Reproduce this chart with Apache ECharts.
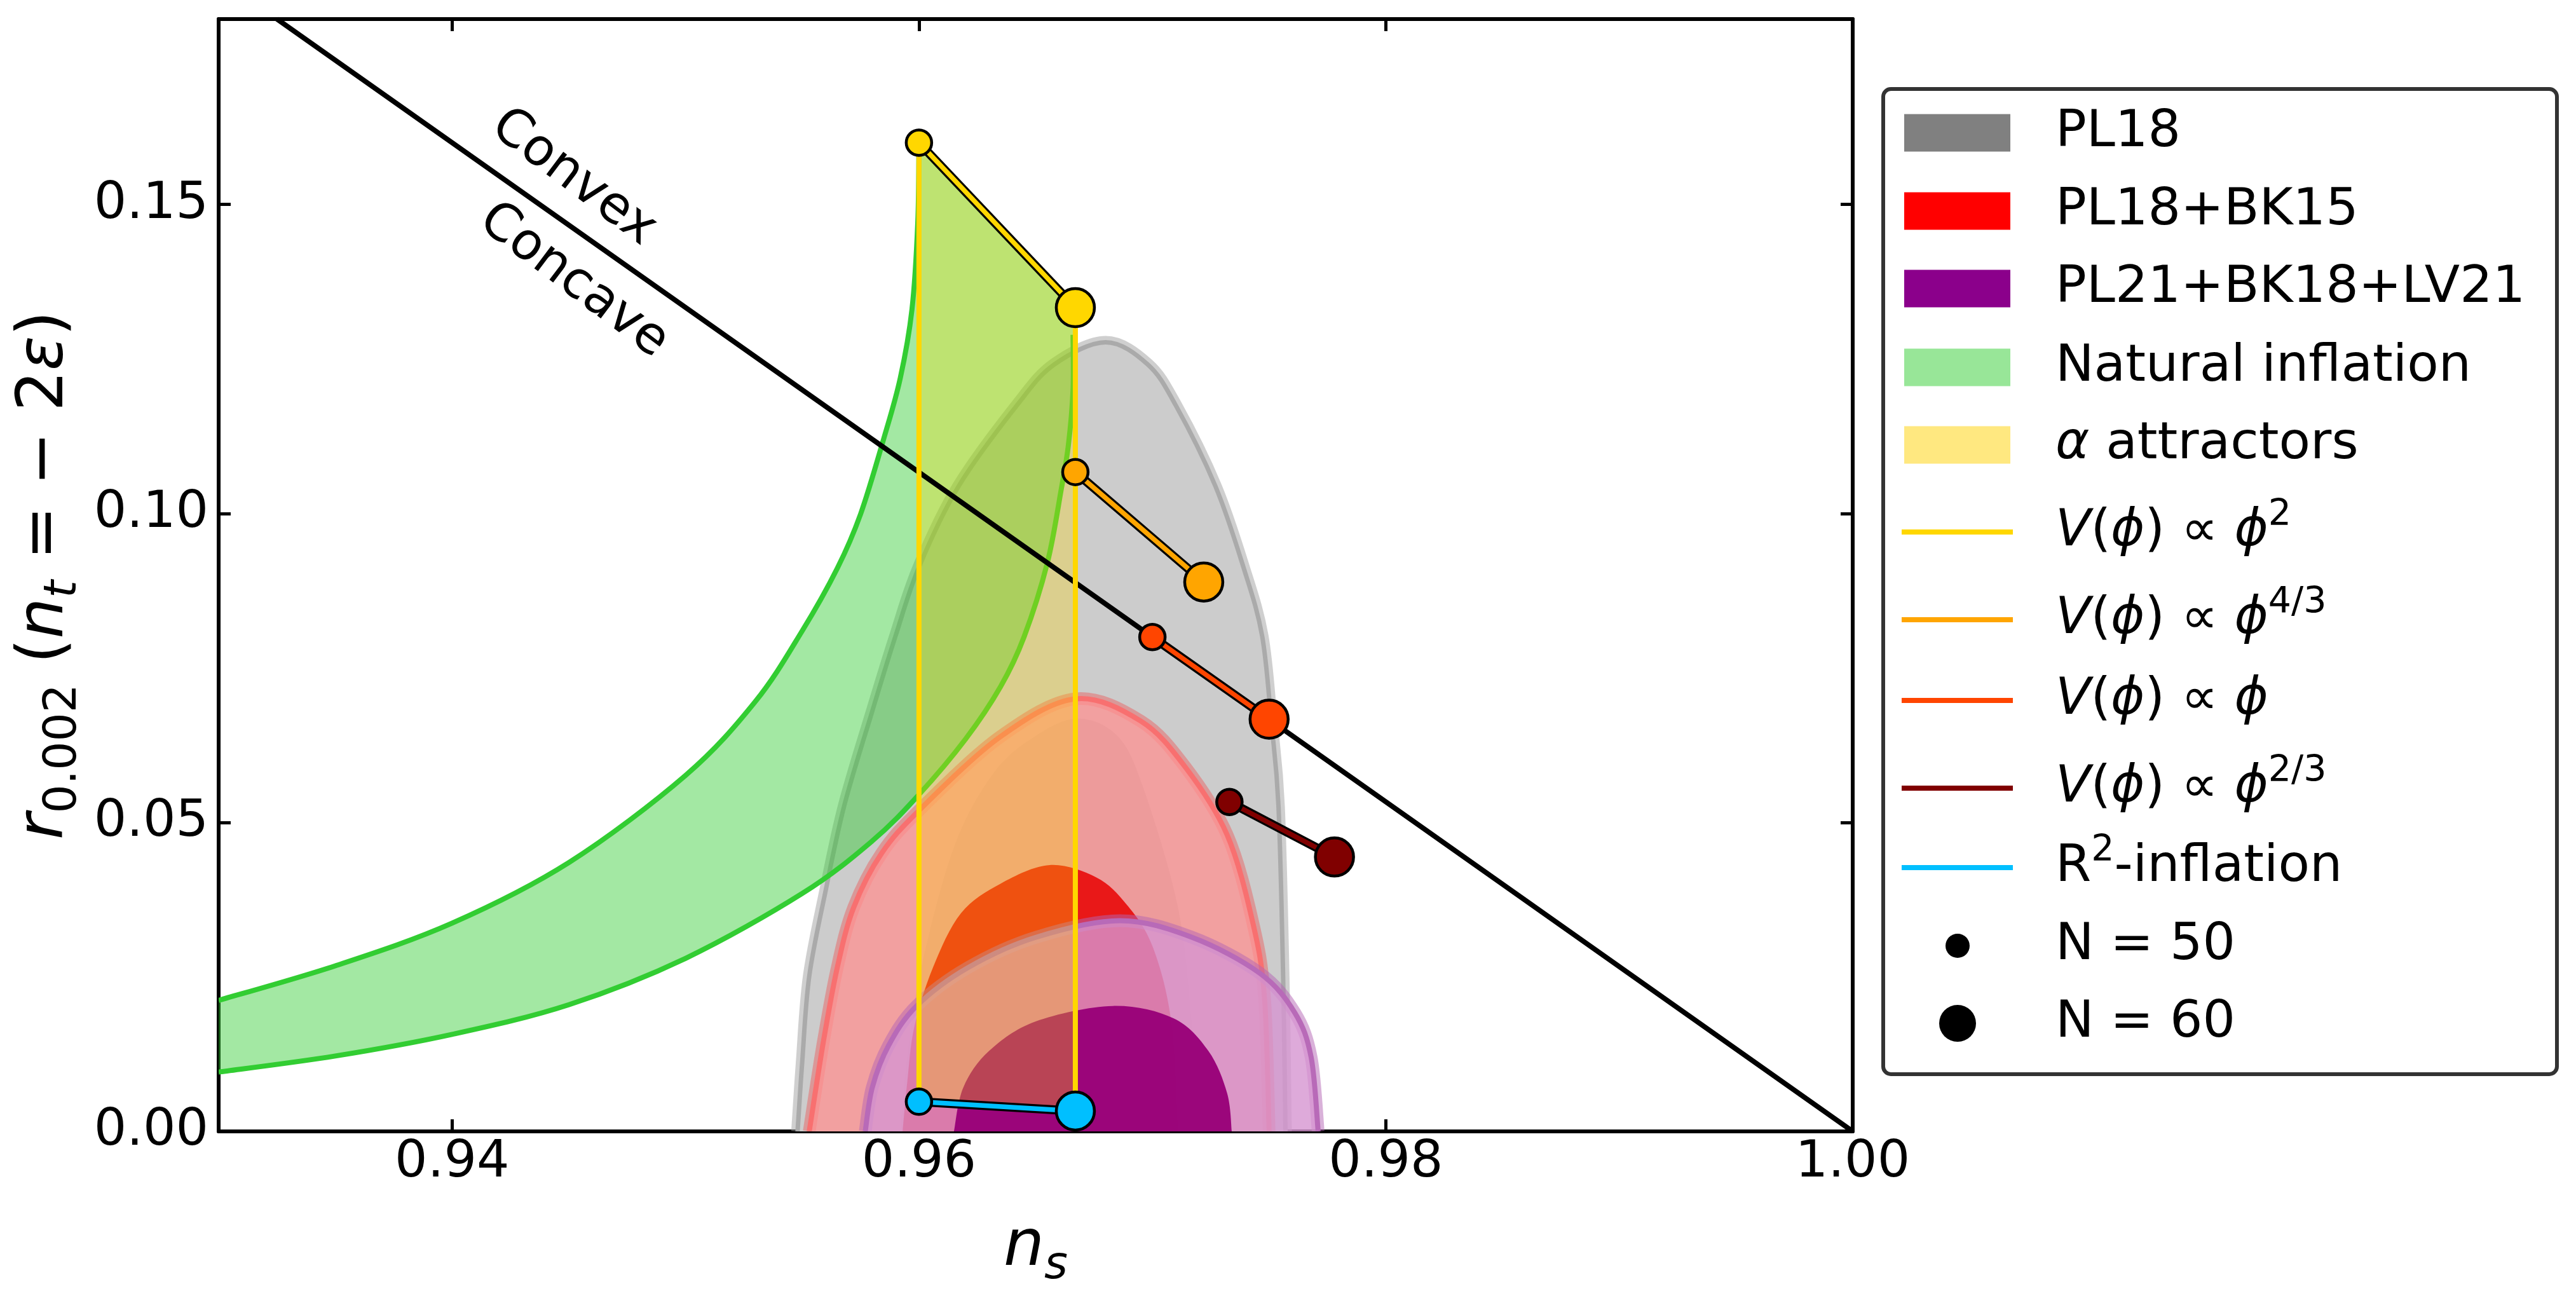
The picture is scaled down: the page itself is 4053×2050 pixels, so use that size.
<!DOCTYPE html>
<html>
<head>
<meta charset="utf-8">
<script src="https://cdn.jsdelivr.net/npm/echarts@6/dist/echarts.min.js"></script>
<style>
  html, body { margin: 0; background: #fff; }
  #chart { width: 4053px; height: 2050px; }
</style>
</head>
<body>
<div id="chart"></div>
<script>
var FONT = 'DejaVu Sans';

// axis ticks
var xTicks = [0.94, 0.96, 0.98, 1.00];
var yTicks = [0.00, 0.05, 0.10, 0.15];

// constraint contours, points [n_s, r]
var pl18Outer = [[0.9548, 0], [0.9550, 0.0113], [0.9553, 0.0251], [0.9560, 0.0389], [0.9568, 0.0527],
  [0.9580, 0.0680], [0.9590, 0.0802], [0.9600, 0.0913], [0.9617, 0.1044], [0.9642, 0.1175],
  [0.9658, 0.1241], [0.9680, 0.1277], [0.9698, 0.1241], [0.9710, 0.1175], [0.9727, 0.1044],
  [0.9739, 0.0913], [0.9747, 0.0802], [0.9751, 0.0660], [0.9754, 0.0527], [0.9756, 0.0251], [0.9757, 0]];
var pl18Inner = [[0.9592, 0], [0.9595, 0.0120], [0.9601, 0.0265], [0.9615, 0.0460], [0.9632, 0.0580],
  [0.9650, 0.0640], [0.9668, 0.0668], [0.9685, 0.0640], [0.9696, 0.0557], [0.9711, 0.0362],
  [0.9717, 0.0169], [0.9721, 0]];
var bk15Outer = [[0.9553, 0], [0.9559, 0.0144], [0.9565, 0.0265], [0.9572, 0.0362], [0.9584, 0.0450],
  [0.9601, 0.0523], [0.9635, 0.0639], [0.9667, 0.0700], [0.9695, 0.0664], [0.9714, 0.0590],
  [0.9732, 0.0480], [0.9743, 0.0338], [0.9748, 0.0217], [0.9750, 0]];
var bk15Inner = [[0.9593, 0], [0.9595, 0.0080], [0.9598, 0.0169], [0.9606, 0.0265], [0.9618, 0.0353],
  [0.9635, 0.0401], [0.9656, 0.0431], [0.9676, 0.0411], [0.9689, 0.0367], [0.9700, 0.0300],
  [0.9708, 0.0180], [0.9711, 0]];
var bk18Outer = [[0.9577, 0], [0.9580, 0.0071], [0.9587, 0.0139], [0.9599, 0.0203], [0.9621, 0.0265],
  [0.9650, 0.0314], [0.9686, 0.0341], [0.9717, 0.0314], [0.9746, 0.0256], [0.9761, 0.0192],
  [0.9768, 0.0120], [0.9771, 0]];
var bk18Inner = [[0.9615, 0], [0.9619, 0.0071], [0.9630, 0.0130], [0.9650, 0.0178], [0.9683, 0.0203],
  [0.9709, 0.0183], [0.9724, 0.0130], [0.9732, 0.0062], [0.9734, 0]];

// natural inflation band: N = 50 edge (left to tip) and N = 60 edge (tip to left)
var naturalN50 = [[0.9300, 0.0212], [0.9350, 0.0268], [0.9400, 0.0337], [0.9450, 0.0435], [0.9500, 0.0576],
  [0.9530, 0.0696], [0.9550, 0.0810], [0.9565, 0.0911], [0.9575, 0.0999], [0.9585, 0.1122],
  [0.9592, 0.1219], [0.9597, 0.1330], [0.95995, 0.1471], [0.9600, 0.1600]];
var naturalN60 = [[0.9666, 0.1289], [0.9666, 0.1200], [0.9664, 0.1110], [0.9661, 0.1040], [0.9655, 0.0920],
  [0.9645, 0.0800], [0.9635, 0.0720], [0.9620, 0.0635], [0.9600, 0.0545], [0.9580, 0.0470],
  [0.9550, 0.0385], [0.9500, 0.0280], [0.9450, 0.0205], [0.9400, 0.0157], [0.9350, 0.0122], [0.9300, 0.0096]];

// model predictions: [N = 50, N = 60]
var phi2 = [[0.9600, 0.1600], [0.9667, 0.1333]];
var phi43 = [[0.9667, 0.1067], [0.9722, 0.0889]];
var phi1 = [[0.9700, 0.0800], [0.9750, 0.0667]];
var phi23 = [[0.9733, 0.0533], [0.9778, 0.0444]];
var r2 = [[0.9600, 0.0048], [0.9667, 0.0033]];

// convex / concave boundary and its labels
var boundary = [[0.9325, 0.18], [1.00, 0.00]];
var boundaryLabels = [[0.9452, 0.1543, 'Convex'], [0.9452, 0.1376, 'Concave']];

function curvePath(px, move) {
  var f = function (v) { return v.toFixed(2); };
  var d = (move ? 'M' : 'L') + f(px[0][0]) + ' ' + f(px[0][1]);
  for (var i = 0; i < px.length - 1; i++) {
    var p0 = px[i - 1] || px[i], p1 = px[i], p2 = px[i + 1], p3 = px[i + 2] || p2;
    d += 'C' + f(p1[0] + (p2[0] - p0[0]) / 6) + ' ' + f(p1[1] + (p2[1] - p0[1]) / 6) + ' ' +
      f(p2[0] - (p3[0] - p1[0]) / 6) + ' ' + f(p2[1] - (p3[1] - p1[1]) / 6) + ' ' +
      f(p2[0]) + ' ' + f(p2[1]);
  }
  return d;
}

function contour(pts, fill, line, halo) {
  return {
    type: 'custom', coordinateSystem: 'cartesian2d', clip: true, silent: true,
    data: [pts[0]],
    renderItem: function (params, api) {
      var px = pts.map(function (p) { return api.coord(p); });
      var open = curvePath(px, true);
      var kids = [];
      if (halo) kids.push({ type: 'path', shape: { pathData: open }, style: { fill: 'none', stroke: halo[0], lineWidth: halo[1] } });
      kids.push({ type: 'path', shape: { pathData: open + 'Z' }, style: { fill: fill } });
      if (line) kids.push({ type: 'path', shape: { pathData: open }, style: { fill: 'none', stroke: line[0], lineWidth: line[1], lineJoin: 'round' } });
      return { type: 'group', children: kids };
    }
  };
}

function naturalBand() {
  return {
    type: 'custom', coordinateSystem: 'cartesian2d', clip: true, silent: true,
    data: [naturalN50[0]],
    renderItem: function (params, api) {
      var up = naturalN50.map(function (p) { return api.coord(p); });
      var lo = naturalN60.map(function (p) { return api.coord(p); });
      var c = api.coord(phi2[1]);
      var area = curvePath(up, true) + 'L' + c[0] + ' ' + c[1] + curvePath(lo, false) + 'Z';
      var edge = { fill: 'none', stroke: '#32cd32', lineWidth: 8 };
      return { type: 'group', children: [
        { type: 'path', shape: { pathData: area }, style: { fill: 'rgba(50,205,50,0.45)' } },
        { type: 'path', shape: { pathData: curvePath(up, true) }, style: edge },
        { type: 'path', shape: { pathData: curvePath(lo, true) }, style: edge }
      ] };
    }
  };
}

function attractorBand() {
  var corners = [r2[0], phi2[0], phi2[1], r2[1]];
  return {
    type: 'custom', coordinateSystem: 'cartesian2d', clip: true, silent: true,
    data: [r2[0]],
    renderItem: function (params, api) {
      return { type: 'polygon', shape: { points: corners.map(function (p) { return api.coord(p); }) },
        style: { fill: 'rgba(255,215,0,0.3)' } };
    }
  };
}

function plainLine(pts, color, width) {
  return { type: 'line', data: pts, symbol: 'none', silent: true,
    lineStyle: { color: color, width: width, cap: 'butt' } };
}

function model(pts, color) {
  return [
    plainLine(pts, '#000', 14),
    { type: 'line', data: pts, silent: true, symbol: 'circle',
      symbolSize: function (v, p) { return p.dataIndex === 0 ? 40 : 60; },
      lineStyle: { color: color, width: 7.5 },
      itemStyle: { color: color, borderColor: '#000', borderWidth: 4.5 } }
  ];
}

function xAxis(pos, labels) {
  return {
    type: 'value', position: pos, min: 0.93, max: 1.0,
    axisLine: { show: true, onZero: false, lineStyle: { color: '#000', width: 6 } },
    axisTick: { show: true, inside: true, length: 19, customValues: xTicks, lineStyle: { color: '#000', width: 5 } },
    axisLabel: { show: labels, customValues: xTicks, margin: 9, fontSize: 81, fontFamily: FONT, color: '#000',
      formatter: function (v) { return v.toFixed(2); } },
    splitLine: { show: false }
  };
}

function yAxis(pos, labels) {
  return {
    type: 'value', position: pos, min: 0, max: 0.18,
    axisLine: { show: true, onZero: false, lineStyle: { color: '#000', width: 6 } },
    axisTick: { show: true, inside: true, length: 19, customValues: yTicks, lineStyle: { color: '#000', width: 5 } },
    axisLabel: { show: labels, customValues: yTicks, margin: 16, fontSize: 81, fontFamily: FONT, color: '#000',
      formatter: function (v) { return v.toFixed(2); } },
    splitLine: { show: false }
  };
}

var titleRich = {
  i: { fontFamily: FONT, fontStyle: 'italic', fontSize: 101, lineHeight: 128, color: '#000' },
  n: { fontFamily: FONT, fontSize: 101, lineHeight: 128, color: '#000' },
  s: { fontFamily: FONT, fontSize: 71, lineHeight: 70, verticalAlign: 'bottom', color: '#000' },
  si: { fontFamily: FONT, fontStyle: 'italic', fontSize: 71, lineHeight: 70, verticalAlign: 'bottom', color: '#000' }
};

var xa = xAxis('bottom', true);
xa.name = '{i|n}{si|s}';
xa.nameLocation = 'middle';
xa.nameGap = 120;
xa.nameTextStyle = { rich: titleRich };
var ya = yAxis('left', true);
ya.name = '{i|r}{s|0.002}{n| (}{i|n}{si|t}{n| = \u2212 2}{i|\u03b5}{n|)}';
ya.nameLocation = 'middle';
ya.nameRotate = 90;
ya.nameGap = 208;
ya.nameTextStyle = { rich: titleRich };

// legend (drawn as graphic, matplotlib style)
var legendRich = {
  n: { fontFamily: FONT, fontSize: 81, lineHeight: 108, color: '#000' },
  i: { fontFamily: FONT, fontStyle: 'italic', fontSize: 81, lineHeight: 108, color: '#000' },
  sup: { fontFamily: FONT, fontSize: 57, lineHeight: 56, verticalAlign: 'top', color: '#000' }
};
var legendItems = [
  ['patch', '#808080', '{n|PL18}'],
  ['patch', '#ff0000', '{n|PL18+BK15}'],
  ['patch', '#8b008b', '{n|PL21+BK18+LV21}'],
  ['patch', '#98e698', '{n|Natural inflation}'],
  ['patch', '#ffe880', '{i|\u03b1}{n| attractors}'],
  ['line', '#ffd700', '{i|V}{n|(}{i|\u03d5}{n|) \u221d }{i|\u03d5}{sup|2}'],
  ['line', '#ffa500', '{i|V}{n|(}{i|\u03d5}{n|) \u221d }{i|\u03d5}{sup|4/3}'],
  ['line', '#ff4500', '{i|V}{n|(}{i|\u03d5}{n|) \u221d }{i|\u03d5}'],
  ['line', '#800000', '{i|V}{n|(}{i|\u03d5}{n|) \u221d }{i|\u03d5}{sup|2/3}'],
  ['line', '#00bfff', '{n|R}{sup|2}{n|-inflation}'],
  ['dot', 19, '{n|N = 50}'],
  ['dot', 29, '{n|N = 60}']
];
var rowY = [209, 332, 454, 578, 700, 837, 975, 1102, 1240, 1365, 1488, 1610];
var legendEls = [{ type: 'rect', shape: { x: 2963, y: 140, width: 1060, height: 1550, r: 12 },
  style: { fill: '#fff', stroke: '#333', lineWidth: 6 } }];
legendItems.forEach(function (it, k) {
  var y = rowY[k];
  if (it[0] === 'patch') {
    legendEls.push({ type: 'rect', shape: { x: 2996, y: y - 29.5, width: 167, height: 59 }, style: { fill: it[1] } });
  } else if (it[0] === 'line') {
    legendEls.push({ type: 'rect', shape: { x: 2992, y: y - 4, width: 175, height: 8 }, style: { fill: it[1] } });
  } else {
    legendEls.push({ type: 'circle', shape: { cx: 3080, cy: y, r: it[1] }, style: { fill: '#000' } });
  }
  legendEls.push({ type: 'text', x: 3234, y: y,
    style: { text: it[2], rich: legendRich, align: 'left', verticalAlign: 'middle',
      textAlign: 'left', textVerticalAlign: 'middle', fill: '#000' } });
});

var series = [
  contour(pl18Outer, '#cccccc', ['#aaaaaa', 7], ['rgba(160,160,160,0.5)', 20]),
  contour(pl18Inner, '#b6b6b6'),
  contour(bk15Outer, 'rgba(255,145,145,0.75)', ['#f87070', 8], ['rgba(230,110,110,0.55)', 20]),
  contour(bk15Inner, 'rgba(232,20,20,0.97)'),
  contour(bk18Outer, 'rgba(214,149,209,0.8)', ['#b86ab8', 8], ['rgba(180,100,180,0.5)', 20]),
  contour(bk18Inner, 'rgba(152,0,120,0.96)'),
  naturalBand(),
  attractorBand(),
  plainLine(boundary, '#000', 8),
  plainLine([r2[0], phi2[0]], '#ffd700', 8),
  plainLine([r2[1], phi2[1]], '#ffd700', 8)
].concat(model(phi2, '#ffd700'), model(phi43, '#ffa500'), model(phi1, '#ff4500'),
  model(phi23, '#800000'), model(r2, '#00bfff'));

series.push({
  type: 'scatter', data: boundaryLabels, symbolSize: 1, silent: true,
  itemStyle: { color: 'rgba(0,0,0,0)', opacity: 1 },
  label: { show: true, position: 'inside', rotate: -37, fontSize: 81, fontFamily: FONT, color: '#000',
    opacity: 1, textBorderWidth: 0, formatter: function (p) { return p.value[2]; } }
});

var chart = echarts.init(document.getElementById('chart'));
chart.setOption({
  animation: false,
  backgroundColor: '#fff',
  grid: { left: 344, right: 1138, top: 30, bottom: 270 },
  xAxis: [xa, xAxis('top', false)],
  yAxis: [ya, yAxis('right', false)],
  graphic: legendEls,
  series: series
});
window.addEventListener('resize', function () { chart.resize(); });
</script>
</body>
</html>
